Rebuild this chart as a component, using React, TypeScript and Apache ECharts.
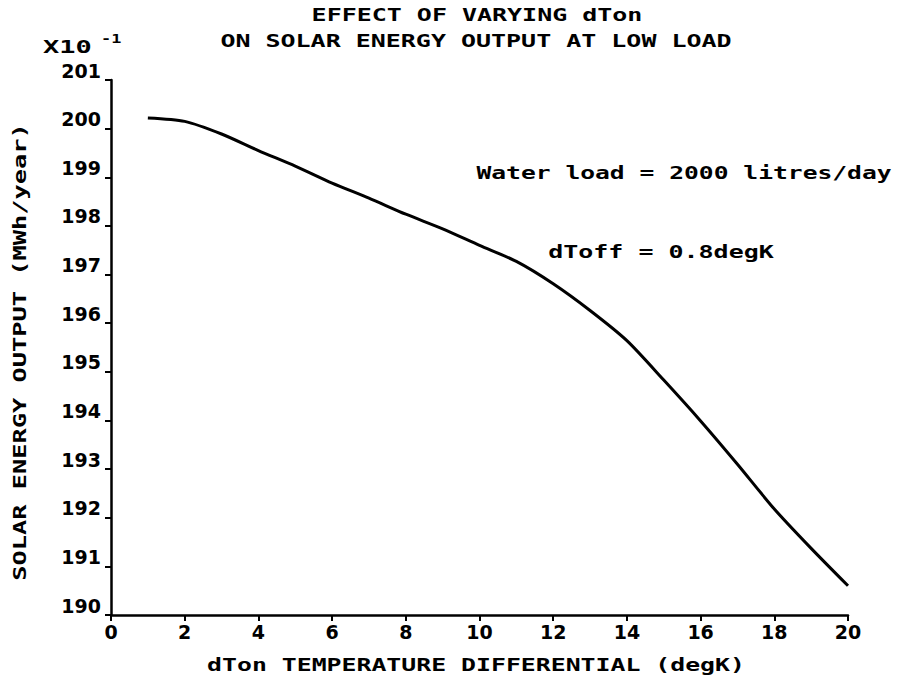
import React, { useEffect, useRef } from "react";
import * as echarts from "echarts";

const dTon = [1, 2, 3, 4, 5, 6, 7, 8, 9, 10, 11, 12, 13, 14, 15, 16, 17, 18, 19, 20];
const solarOutput = [
  200.22, 200.15, 199.89, 199.55, 199.23, 198.88, 198.57, 198.24, 197.94, 197.6,
  197.27, 196.81, 196.26, 195.64, 194.83, 193.99, 193.1, 192.18, 191.37, 190.6,
];
const titleLines = ["EFFECT OF VARYING dTon", "ON SOLAR ENERGY OUTPUT AT LOW LOAD"];
const xAxisTitle = "dTon TEMPERATURE DIFFERENTIAL (degK)";
const yAxisTitle = "SOLAR ENERGY OUTPUT (MWh/year)";
const notes = ["Water load = 2000 litres/day", "dToff = 0.8degK"];

const MONO = '"DejaVu Sans Mono", monospace';

function txt(text: string, x: number, y: number, sx: number, extra: any = {}) {
  return {
    type: "text",
    x,
    y,
    scaleX: sx,
    rotation: extra.rotation || 0,
    style: {
      text,
      fill: "#000",
      fontFamily: MONO,
      fontWeight: "bold",
      fontSize: extra.fontSize || 17,
      align: extra.align || "center",
      verticalAlign: "middle",
    },
  };
}

export default function App() {
  const ref = useRef<HTMLDivElement>(null);
  useEffect(() => {
    if (!ref.current) return;
    const chart = echarts.init(ref.current, undefined, { renderer: "svg" });
    chart.setOption({
      animation: false,
      backgroundColor: "#fff",
      grid: { left: 111, right: 54, top: 80, bottom: 69 },
      xAxis: {
        type: "value",
        min: 0,
        max: 20,
        interval: 2,
        axisLine: { show: true, lineStyle: { color: "#000", width: 2.5 } },
        axisTick: { show: true, inside: false, length: 6, lineStyle: { color: "#000", width: 2 } },
        splitLine: { show: false },
        axisLabel: {
          color: "#000",
          fontFamily: '"DejaVu Sans", sans-serif',
          fontWeight: "bold",
          fontSize: 19,
          margin: 7,
        },
      },
      yAxis: {
        type: "value",
        min: 190,
        max: 201,
        interval: 1,
        axisLine: { show: true, lineStyle: { color: "#000", width: 2.5 } },
        axisTick: { show: true, inside: false, length: 6, lineStyle: { color: "#000", width: 2 } },
        splitLine: { show: false },
        axisLabel: {
          color: "#000",
          fontFamily: '"DejaVu Sans", sans-serif',
          fontWeight: "bold",
          fontSize: 19,
          margin: 10,
          verticalAlign: "bottom",
          lineHeight: 19,
        },
      },
      series: [
        {
          type: "line",
          data: dTon.map((d, i) => [d, solarOutput[i]]),
          smooth: 0.25,
          showSymbol: false,
          symbol: "none",
          lineStyle: { color: "#000", width: 3 },
        },
      ],
      graphic: [
        txt(titleLines[0], 477, 15, 1.47),
        txt(titleLines[1], 476, 41, 1.47),
        {
          type: "text",
          x: 43,
          y: 47,
          scaleX: 1.5,
          style: {
            text: "X10",
            fill: "#000",
            fontFamily: MONO,
            fontWeight: "bold",
            fontSize: 18,
            align: "left",
            verticalAlign: "middle",
          },
        },
        {
          type: "text",
          x: 101,
          y: 39,
          scaleX: 1.3,
          style: {
            text: "-1",
            fill: "#000",
            fontFamily: MONO,
            fontWeight: "bold",
            fontSize: 13,
            align: "left",
            verticalAlign: "middle",
          },
        },
        txt(notes[0], 684, 173, 1.45),
        txt(notes[1], 661, 252, 1.47),
        txt(xAxisTitle, 476, 665, 1.46),
        txt(yAxisTitle, 20, 352, 1.49, { rotation: Math.PI / 2 }),
      ],
    });
    return () => chart.dispose();
  }, []);
  return <div ref={ref} style={{ width: 902, height: 684, margin: "-8px 0 0 -8px" }} />;
}
